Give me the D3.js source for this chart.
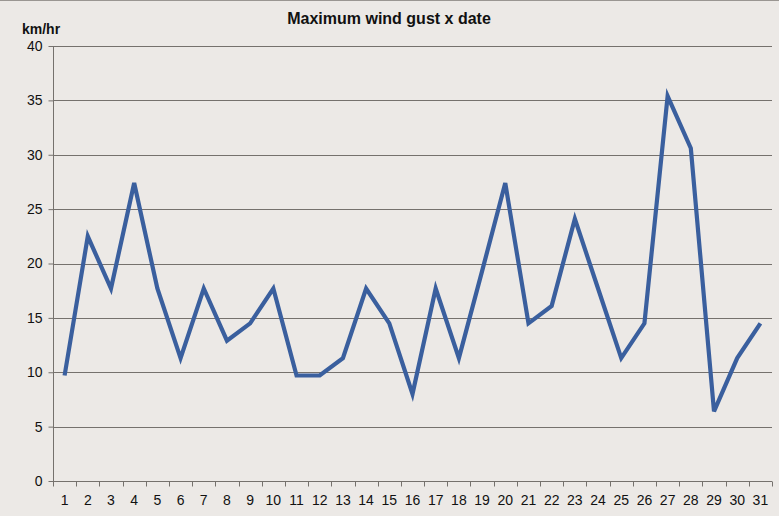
<!DOCTYPE html>
<html><head><meta charset="utf-8">
<script src="https://cdn.jsdelivr.net/npm/d3@7"></script>
<style>html,body{margin:0;padding:0;background:#ECE9E6;}svg{display:block;}</style>
</head><body>
<svg id="c" width="779" height="516"></svg>
<script>
const days = d3.range(1, 32).map(String);
const gust = [9.7,22.5,17.7,27.4,17.7,11.3,17.7,12.9,14.5,17.7,9.7,9.7,11.3,17.7,14.5,8.0,17.7,11.3,19.3,27.4,14.5,16.1,24.1,17.7,11.3,14.5,35.4,30.6,6.4,11.3,14.5];
const yTicks = [0,5,10,15,20,25,30,35,40];
const title = "Maximum wind gust x date";
const yUnit = "km/hr";

const svg = d3.select("#c");
const W = 779, H = 516;
const m = {l:53, r:7, t:46, b:35};
svg.append("rect").attr("width",W).attr("height",H).attr("fill","#ECE9E6");
svg.append("line").attr("x1",0).attr("x2",W).attr("y1",0.5).attr("y2",0.5).attr("stroke","#9a9692");

const x = d3.scaleBand().domain(days).range([m.l, W-m.r]);
const y = d3.scaleLinear().domain([0,40]).range([H-m.b, m.t]);
const font = "Liberation Sans, Arial, sans-serif";
const grid = "#75716d";

// gridlines
svg.append("g").selectAll("line").data(yTicks.filter(d=>d>0)).join("line")
  .attr("x1",m.l).attr("x2",W-m.r).attr("y1",d=>Math.round(y(d))+0.5).attr("y2",d=>Math.round(y(d))+0.5)
  .attr("stroke",grid).attr("stroke-width",1);

// y axis
const ya = svg.append("g").attr("transform",`translate(${m.l+0.5},0)`)
  .call(d3.axisLeft(y).tickValues(yTicks).tickSize(5).tickPadding(6).tickFormat(d3.format("d")));
ya.select(".domain").attr("stroke",grid).attr("d",`M-0,${m.t}V${H-m.b}`);
ya.selectAll(".tick line").attr("stroke",grid);
ya.selectAll(".tick text").attr("font-family",font).attr("font-size",14).attr("fill","#111");

// x axis
const xa = svg.append("g").attr("transform",`translate(0,${Math.round(y(0))+0.5})`)
  .call(d3.axisBottom(x).tickSize(0).tickPadding(14));
xa.select(".domain").attr("stroke",grid).attr("d",`M${m.l},0H${W-m.r}`);
xa.selectAll(".tick text").attr("font-family",font).attr("font-size",14).attr("fill","#111");
xa.append("g").selectAll("line").data(days.concat(["end"])).join("line")
  .attr("x1",(d,i)=>Math.round(m.l + i*x.step())+0.5).attr("x2",(d,i)=>Math.round(m.l + i*x.step())+0.5)
  .attr("y1",0).attr("y2",5).attr("stroke",grid);

// line
const line = d3.line().x((d,i)=>x(days[i])+x.bandwidth()/2).y(d=>y(d));
svg.append("path").datum(gust).attr("d",line).attr("fill","none")
  .attr("stroke","#3A5F9E").attr("stroke-width",4.2).attr("stroke-linejoin","miter").attr("stroke-miterlimit",4);

svg.append("text").attr("x",389).attr("y",24).attr("text-anchor","middle")
  .attr("font-family",font).attr("font-weight","bold").attr("font-size",16).attr("fill","#111").text(title);
svg.append("text").attr("x",22).attr("y",34)
  .attr("font-family",font).attr("font-weight","bold").attr("font-size",14).attr("fill","#111").text(yUnit);
</script>
</body></html>
